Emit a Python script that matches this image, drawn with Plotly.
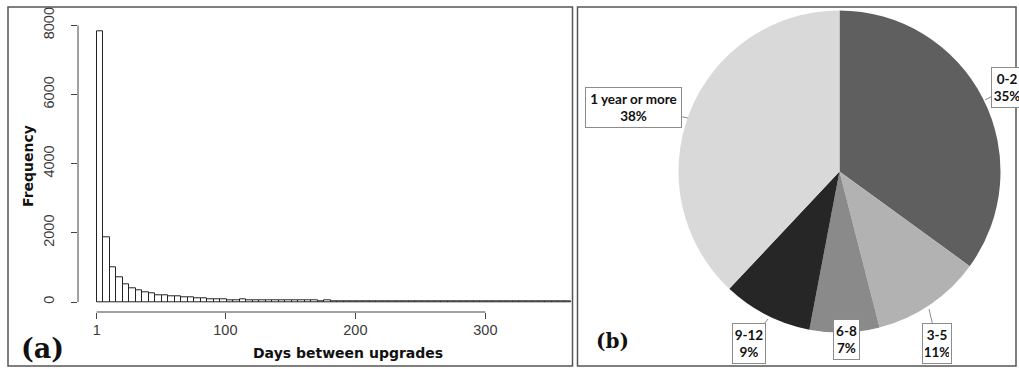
import numpy as np
import plotly.graph_objects as go

# ---- (a) histogram of days between upgrades: 5-day bins starting at day 1 ----
bin_start = 1
bin_width = 5
frequency = [
    7830, 1880, 1000, 700, 500, 400, 345, 285, 250, 195,
    190, 165, 160, 125, 125, 105, 100, 70, 70, 85,
    60, 55, 65, 50, 45, 55, 40, 45, 50, 42,
    38, 45, 35, 40, 30, 35, 32, 28, 30, 25,
    25, 22, 28, 20, 18, 22, 15, 20, 18, 15,
    12, 18, 15, 12, 14, 10, 12, 15, 10, 8,
    12, 10, 9, 11, 8, 10, 7, 9, 12, 8,
    10, 9, 14,
]
x_ticks = [1, 100, 200, 300]
y_ticks = [0, 2000, 4000, 6000, 8000]

# ---- (b) pie of upgrade intervals ----
pie_labels = ["0-2", "3-5", "6-8", "9-12", "1 year or more"]
pie_shares = [35, 11, 7, 9, 38]
pie_colors = ["#5f5f5f", "#b2b2b2", "#8a8a8a", "#262626", "#d9d9d9"]

W, H = 1019, 369


def px(x):
    return x / W


def py(y):
    return 1 - y / H


edges = bin_start + bin_width * np.arange(len(frequency) + 1)
centers = (edges[:-1] + edges[1:]) / 2

fig = go.Figure()

fig.add_trace(go.Bar(
    x=centers, y=frequency, width=bin_width,
    marker=dict(color="white", line=dict(color="#222222", width=1)),
    xaxis="x", yaxis="y", showlegend=False, hoverinfo="x+y",
))

fig.add_trace(go.Pie(
    labels=pie_labels, values=pie_shares, sort=False, direction="clockwise",
    rotation=0, marker=dict(colors=pie_colors, line=dict(width=0)),
    textinfo="none", showlegend=False,
    domain=dict(x=[px(678.5), px(1000.5)], y=[py(332.5), py(10.5)]),
))

# pixel layout of the histogram axes
x_left, x_right = 78, 572          # y-axis line, right edge of panel
day1_px, px_per_day = 96.7, 1.3
y_top, y_bottom = 25.3, 312        # 8000 tick, x-axis line
zero_px, px_per_unit = 302, 69.2 / 2000

x_range = [1 + (x_left - day1_px) / px_per_day, 1 + (x_right - day1_px) / px_per_day]
y_range = [-(y_bottom - zero_px) / px_per_unit, 8000]

tick_font = dict(family="Liberation Sans, Arial, sans-serif", size=14.5, color="#3a3a3a")

fig.update_layout(
    width=W, height=H, margin=dict(l=0, r=0, t=0, b=0, autoexpand=False),
    paper_bgcolor="white", plot_bgcolor="white",
    bargap=0,
    xaxis=dict(
        domain=[px(x_left), px(x_right)], range=x_range, automargin=False,
        tickvals=x_ticks, ticktext=[str(v) for v in x_ticks],
        ticks="outside", ticklen=6, tickcolor="#444444", tickwidth=1,
        showgrid=False, zeroline=False, showline=False,
        tickfont=tick_font, ticklabelstandoff=-1,
    ),
    yaxis=dict(
        domain=[py(y_bottom), py(y_top)], range=y_range, automargin=False,
        tickvals=y_ticks, ticktext=[str(v) for v in y_ticks],
        ticks="outside", ticklen=6, tickcolor="#444444", tickwidth=1,
        tickangle=-90,
        showgrid=False, zeroline=False, showline=False,
        tickfont=tick_font, ticklabelstandoff=11,
    ),
)

shapes = [
    # R-style axis lines spanning only the tick range
    dict(type="line", xref="paper", yref="y", x0=px(x_left), x1=px(x_left),
         y0=y_ticks[0], y1=y_ticks[-1], line=dict(color="#444444", width=1)),
    dict(type="line", xref="x", yref="paper", x0=x_ticks[0], x1=x_ticks[-1],
         y0=py(y_bottom), y1=py(y_bottom), line=dict(color="#444444", width=1)),
    # panel frames
    dict(type="rect", xref="paper", yref="paper", x0=px(8), x1=px(572.5),
         y0=py(366), y1=py(7), line=dict(color="#555555", width=1.5)),
    dict(type="rect", xref="paper", yref="paper", x0=px(577.5), x1=px(1016),
         y0=py(366), y1=py(7), line=dict(color="#555555", width=1.5)),
]
fig.update_layout(shapes=shapes)

title_font = dict(family="DejaVu Sans, sans-serif", size=14, color="#111111", weight="bold")
panel_font = dict(family="DejaVu Serif, serif", color="#111111", weight="bold")
label_font = dict(family="Lato, Open Sans, sans-serif", size=13.5, color="#111111", weight="bold")

centered = dict(xref="paper", yref="paper", xanchor="center", yanchor="middle", showarrow=False)
annotations = [
    dict(centered, text="Frequency", x=px(28), y=py(166), textangle=-90, font=title_font),
    dict(centered, text="Days between upgrades", x=px(348), y=py(353), font=title_font),
    dict(centered, text="(a)", x=px(42), y=py(348), font=dict(panel_font, size=27)),
    dict(centered, text="(b)", x=px(612.5), y=py(341), font=dict(panel_font, size=20)),
]

# callout boxes: (text, tip x, tip y, box centre x, box centre y, box width, arrow)
callouts = [
    ("0-2<br>35%", 985, 100, 1007, 88, 32, True),
    ("1 year or more<br>38%", 688, 118, 633.5, 107.5, 97, True),
    ("9-12<br>9%", 768, 319, 749, 343, 34, True),
    ("6-8<br>7%", 846.5, 339, 846.5, 339, 27, False),
    ("3-5<br>11%", 929, 309, 937, 343, 30, True),
]
for text, tx, ty, bx, by, bw, arrow in callouts:
    ann = dict(
        text=text, xref="paper", yref="paper",
        font=label_font, align="center", xanchor="center", yanchor="middle",
        bgcolor="white", bordercolor="#8c8c8c", borderwidth=1, borderpad=2,
        width=bw - 6, height=35,
    )
    if arrow:
        ann.update(x=px(tx), y=py(ty), showarrow=True, arrowhead=0, arrowwidth=1,
                   arrowcolor="#8c8c8c", ax=bx - tx, ay=by - ty, standoff=0)
    else:
        ann.update(x=px(bx), y=py(by), showarrow=False)
    annotations.append(ann)

fig.update_layout(annotations=annotations)

fig.write_html("out.html")
